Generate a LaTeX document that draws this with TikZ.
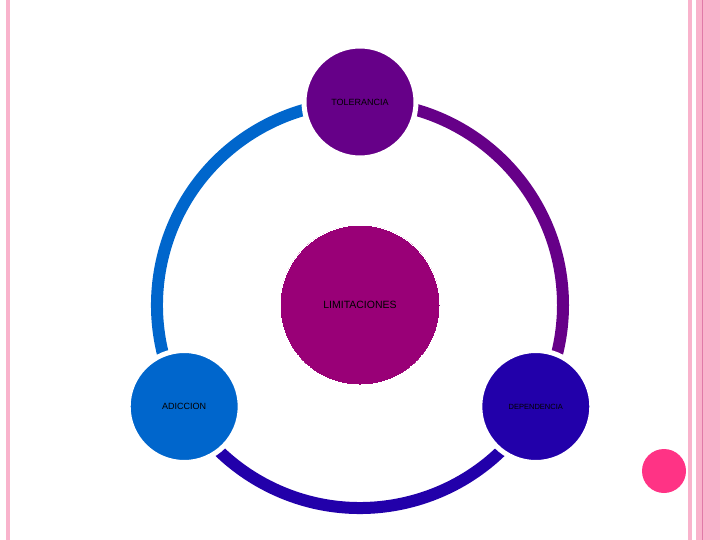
\documentclass[tikz,border=0pt]{standalone}
\usepackage{fontspec}
\setmainfont{Liberation Sans}
\usetikzlibrary{calc}
\definecolor{rose}{HTML}{F9B3CC}
\definecolor{rosedark}{HTML}{E07AA8}
\definecolor{dot}{HTML}{FF3385}
\definecolor{tolc}{HTML}{660088}
\definecolor{limc}{HTML}{990077}
\definecolor{adic}{HTML}{0066CC}
\definecolor{depc}{HTML}{2200AA}
\tikzset{
	bubble/.style={circle,minimum size=112pt,inner sep=0pt,draw=white,line width=5pt,text=black},
	ring/.style={line width=12pt}
}
\begin{document}
\begin{tikzpicture}[x=1pt,y=-1pt]
\useasboundingbox (0,0) rectangle (720,540);
% borders
\fill[color=rose] (6,0) rectangle (10,540);
\fill[color=rose] (688,0) rectangle (692,540);
\fill[color=rose] (696,0) rectangle (720,540);
\draw[color=rosedark,line width=0.8pt] (702,0) -- (702,540);
\fill[color=dot] (664,471) circle[radius=22];
%
\coordinate (c) at (360,305);
\draw[ring,color=adic] (c) ++(150:203) arc[start angle=150,end angle=270,radius=203];
\draw[ring,color=tolc] (c) ++(-90:203) arc[start angle=-90,end angle=30,radius=203];
\draw[ring,color=depc] (c) ++(30:203) arc[start angle=30,end angle=150,radius=203];
%
\node[bubble,fill=limc,minimum size=160pt,line width=0pt] (lim) at (c) {\fontsize{10.5}{12}\selectfont LIMITACIONES};
\node[bubble,fill=tolc] (tol) at ($(c)+(-90:203)$) {\fontsize{9}{11}\selectfont TOLERANCIA};
\node[bubble,fill=adic] (adi) at ($(c)+(150:203)$) {\fontsize{9}{11}\selectfont ADICCION};
\node[bubble,fill=depc] (dep) at ($(c)+(30:203)$) {\fontsize{7.5}{9}\selectfont DEPENDENCIA};
\end{tikzpicture}
\end{document}
